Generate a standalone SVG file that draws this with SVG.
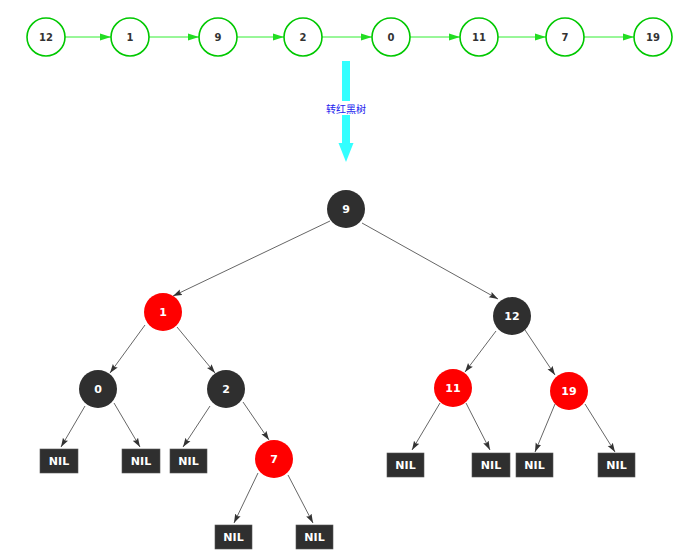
<svg xmlns="http://www.w3.org/2000/svg" width="684" height="556" viewBox="0 0 684 556">
  <style>
    .lnode circle { fill: #ffffff; stroke: #00c800; stroke-width: 1.6; }
    .lnode text { fill: #333333; font-family: "DejaVu Sans", Verdana, sans-serif; font-weight: bold; font-size: 10px; text-anchor: middle; dominant-baseline: central; }
    .black circle { fill: #2f2f2f; }
    .red circle { fill: #ff0000; }
    .tnode text, .nil text { fill: #ffffff; font-family: "DejaVu Sans", Verdana, sans-serif; font-weight: bold; font-size: 11px; text-anchor: middle; dominant-baseline: central; }
    .nil rect { fill: #2f2f2f; stroke: #555555; stroke-width: 0.6; }
    .glink { stroke: #33ee33; stroke-width: 1; fill: none; marker-end: url(#garrow); }
    .tlink { stroke: #555555; stroke-width: 0.9; fill: none; marker-end: url(#tarrow); }
  </style>
  <defs>
    <marker id="garrow" markerUnits="userSpaceOnUse" markerWidth="11" markerHeight="8" refX="11" refY="4" orient="auto">
      <path d="M0,0.5 L11,4 L0,7.5 z" fill="#22dd22"/>
    </marker>
    <marker id="tarrow" markerUnits="userSpaceOnUse" markerWidth="9" markerHeight="7" refX="9" refY="3.5" orient="auto">
      <path d="M0,0.5 L9,3.5 L0,6.5 L1.5,3.5 z" fill="#333333"/>
    </marker>
  </defs>

  <rect width="684" height="556" fill="#ffffff"/>

  <!-- linked list connectors -->
  <g id="list-links">
    <line class="glink" x1="65" y1="37" x2="111" y2="37"/>
    <line class="glink" x1="149" y1="37" x2="199" y2="37"/>
    <line class="glink" x1="237" y1="37" x2="284" y2="37"/>
    <line class="glink" x1="322" y1="37" x2="372" y2="37"/>
    <line class="glink" x1="410" y1="37" x2="460" y2="37"/>
    <line class="glink" x1="498" y1="37" x2="546" y2="37"/>
    <line class="glink" x1="584" y1="37" x2="634" y2="37"/>
  </g>

  <!-- linked list nodes -->
  <g id="list-12" class="lnode"><circle cx="46" cy="37" r="19"/><text x="46" y="37">12</text></g>
  <g id="list-1" class="lnode"><circle cx="130" cy="37" r="19"/><text x="130" y="37">1</text></g>
  <g id="list-9" class="lnode"><circle cx="218" cy="37" r="19"/><text x="218" y="37">9</text></g>
  <g id="list-2" class="lnode"><circle cx="303" cy="37" r="19"/><text x="303" y="37">2</text></g>
  <g id="list-0" class="lnode"><circle cx="391" cy="37" r="19"/><text x="391" y="37">0</text></g>
  <g id="list-11" class="lnode"><circle cx="479" cy="37" r="19"/><text x="479" y="37">11</text></g>
  <g id="list-7" class="lnode"><circle cx="565" cy="37" r="19"/><text x="565" y="37">7</text></g>
  <g id="list-19" class="lnode"><circle cx="653" cy="37" r="19"/><text x="653" y="37">19</text></g>

  <!-- conversion arrow -->
  <g id="convert">
    <rect x="342" y="61" width="8" height="83" fill="#33ffff"/>
    <polygon points="338.5,143 353.5,143 346,162" fill="#33ffff"/>
    <rect x="325" y="101" width="42" height="14" fill="#ffffff"/>
    <text x="346" y="108" fill="#2222ee" font-family="'Noto Sans CJK SC', 'Noto Sans', sans-serif" font-size="10" text-anchor="middle" dominant-baseline="central">转红黑树</text>
  </g>

  <!-- tree connectors -->
  <g id="tree-links">
    <line class="tlink" x1="330" y1="221" x2="173" y2="296"/>
    <line class="tlink" x1="362" y1="223" x2="498" y2="299"/>
    <line class="tlink" x1="145" y1="325" x2="110" y2="373"/>
    <line class="tlink" x1="177" y1="327" x2="215" y2="373"/>
    <line class="tlink" x1="85" y1="406" x2="61" y2="447"/>
    <line class="tlink" x1="114" y1="403" x2="140" y2="447"/>
    <line class="tlink" x1="210" y1="406" x2="183" y2="447"/>
    <line class="tlink" x1="243" y1="402" x2="269" y2="440"/>
    <line class="tlink" x1="258" y1="473" x2="234" y2="523"/>
    <line class="tlink" x1="288" y1="475" x2="313" y2="523"/>
    <line class="tlink" x1="496" y1="331" x2="465" y2="372"/>
    <line class="tlink" x1="525" y1="330" x2="555" y2="375"/>
    <line class="tlink" x1="440" y1="403" x2="412" y2="450"/>
    <line class="tlink" x1="466" y1="403" x2="490" y2="450"/>
    <line class="tlink" x1="555" y1="404" x2="535" y2="452"/>
    <line class="tlink" x1="585" y1="404" x2="615" y2="452"/>
  </g>

  <!-- tree nodes -->
  <g id="tree-9" class="tnode black"><circle cx="346" cy="209" r="19"/><text x="346" y="209">9</text></g>
  <g id="tree-1" class="tnode red"><circle cx="163" cy="312" r="19"/><text x="163" y="312">1</text></g>
  <g id="tree-12" class="tnode black"><circle cx="512" cy="316" r="19"/><text x="512" y="316">12</text></g>
  <g id="tree-0" class="tnode black"><circle cx="98" cy="389" r="19"/><text x="98" y="389">0</text></g>
  <g id="tree-2" class="tnode black"><circle cx="226" cy="389" r="19"/><text x="226" y="389">2</text></g>
  <g id="tree-7" class="tnode red"><circle cx="274" cy="459" r="19"/><text x="274" y="459">7</text></g>
  <g id="tree-11" class="tnode red"><circle cx="453" cy="388" r="19"/><text x="453" y="388">11</text></g>
  <g id="tree-19" class="tnode red"><circle cx="569" cy="391" r="19"/><text x="569" y="391">19</text></g>

  <!-- NIL leaves -->
  <g id="nil-0l" class="nil"><rect x="40" y="449" width="38" height="24"/><text x="59" y="461">NIL</text></g>
  <g id="nil-0r" class="nil"><rect x="122" y="449" width="38" height="24"/><text x="141" y="461">NIL</text></g>
  <g id="nil-2l" class="nil"><rect x="170" y="449" width="37" height="24"/><text x="188.5" y="461">NIL</text></g>
  <g id="nil-7l" class="nil"><rect x="215" y="525" width="37" height="24"/><text x="233.5" y="537">NIL</text></g>
  <g id="nil-7r" class="nil"><rect x="296" y="525" width="37" height="24"/><text x="314.5" y="537">NIL</text></g>
  <g id="nil-11l" class="nil"><rect x="387" y="453" width="37" height="24"/><text x="405.5" y="465">NIL</text></g>
  <g id="nil-11r" class="nil"><rect x="472" y="453" width="38" height="24"/><text x="491" y="465">NIL</text></g>
  <g id="nil-19l" class="nil"><rect x="516" y="453" width="37" height="24"/><text x="534.5" y="465">NIL</text></g>
  <g id="nil-19r" class="nil"><rect x="598" y="453" width="37" height="24"/><text x="616.5" y="465">NIL</text></g>
</svg>
